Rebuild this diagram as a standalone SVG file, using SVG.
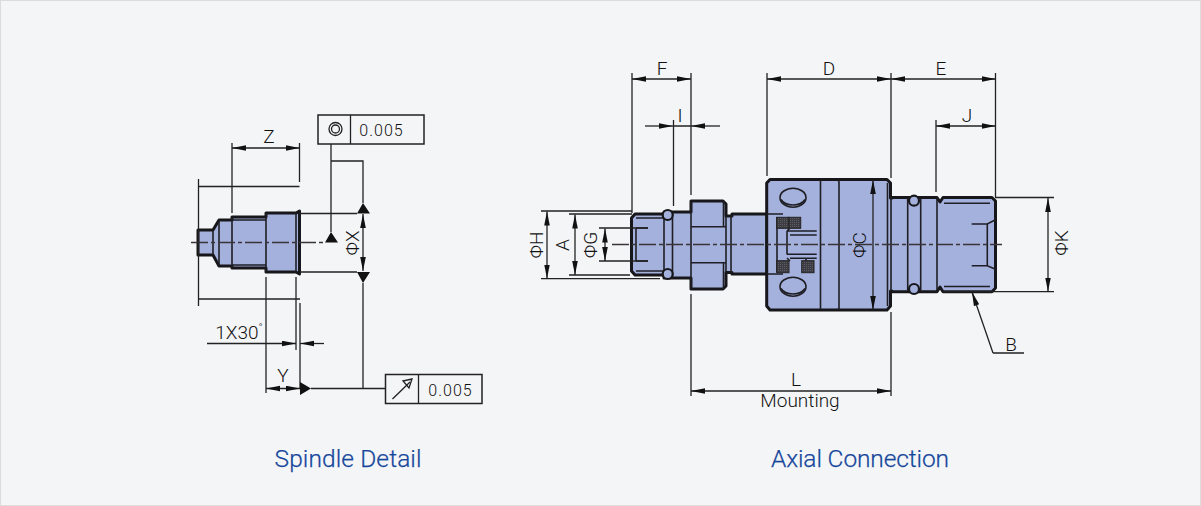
<svg xmlns="http://www.w3.org/2000/svg" width="1201" height="506" viewBox="0 0 1201 506">
<defs>
<style>
.b{fill:#a5b1dd;stroke:#17171b;stroke-width:3;stroke-linejoin:round}
.o{fill:#a5b1dd;stroke:#17171b;stroke-width:2.200}
.i{fill:none;stroke:#1e1e24;stroke-width:1.6}
.d{fill:none;stroke:#222;stroke-width:1.3}
.ar{fill:none;stroke:#222;stroke-width:1.3;marker-start:url(#a);marker-end:url(#a)}
.c{fill:none;stroke:#3a3438;stroke-width:1.500;stroke-dasharray:17 3 4 3}
.h{fill:#111}
.t{font-family:"Roboto","Liberation Sans",sans-serif;font-weight:300;font-size:19px;fill:#111;text-anchor:middle}
.n{font-family:"Roboto","Liberation Sans",sans-serif;font-weight:300;font-size:16px;fill:#111;text-anchor:middle;letter-spacing:1px}
.tt{font-family:"Roboto","Liberation Sans",sans-serif;font-size:24.500px;font-weight:300;fill:#16479c;stroke:#16479c;stroke-width:.25;text-anchor:middle}
.hx{fill:url(#hp);stroke:#222;stroke-width:1}
</style>
<marker id="a" markerUnits="userSpaceOnUse" markerWidth="15" markerHeight="7" refX="14" refY="3" orient="auto-start-reverse"><path d="M0 0.2L14 3L0 5.8z" fill="#111"/></marker>
<pattern id="hp" width="2" height="2" patternUnits="userSpaceOnUse"><rect width="2" height="2" fill="#3c3c42"/><rect width="1" height="1" fill="#5d5d66"/></pattern>
</defs>
<rect x=".5" y=".5" width="1200" height="505" fill="#f4f5f7" stroke="#dcdcdc"/>

<g id="spindle-part">
<path class="b" d="M198 230H213L219 220H232V217H266V213H296L299.500 211V274L296 272H266V268H232V266H219L213 255H198Z"/>
<path class="i" d="M213 230V255M219 220V266M232 217V268M266 213V272M296 213V272M232 220H266M232 265H266"/>
</g>
<g id="connectors-spindle">
<path class="c" d="M191 242.500H325"/>
<path class="d" d="M198.500 179V306M198.500 186.500H299.500M198.500 299H300M232 143V213M299.500 143V182M300 303V388M266 277V393M296 277V350M300 213.500H357M300 272H357M363 283V388.500M331 144V232M331 161H363V203M311 388.500H386"/>
<path class="ar" d="M232 148H299.500"/>
<path class="ar" d="M266 388.500H300"/>
<path class="ar" d="M363 214V271"/>
<path class="d" marker-end="url(#a)" d="M207 343.500H296"/>
<path class="d" marker-end="url(#a)" d="M324 343.500H300"/>
<path class="h" d="M331 232L325 242.500H338ZM363 203L357 213.500H370ZM357 272H370L363 283ZM300 382V395L311 388.500Z"/>
</g>
<g id="spindle-labels">
<text class="t" x="269" y="143">Z</text>
<text class="t" x="239" y="338.500">1X30<tspan font-size="11" dy="-8">°</tspan></text>
<text class="t" x="283" y="382">Y</text>
<text class="t" transform="translate(359 243) rotate(-90)">ΦX</text>
</g>
<g id="tolerance-concentricity">
<rect x="318" y="115" width="106" height="29" fill="none" stroke="#222" stroke-width="1.500"/>
<path class="d" d="M350.500 115V144"/>
<circle cx="335.500" cy="129" r="6.500" class="d"/><circle cx="335.500" cy="129" r="4" class="d"/>
<text class="n" x="381.500" y="136">0.005</text>
</g>
<g id="tolerance-runout">
<rect x="385.500" y="374.500" width="96.500" height="29" fill="none" stroke="#222" stroke-width="1.500"/>
<path class="d" d="M418.500 374.500V403.500M392.500 399L410 382"/>
<path class="d" d="M403 381L412 379L409 388Z"/>
<text class="n" x="450.500" y="395.500">0.005</text>
</g>

<g id="connection-part">
<path class="b" d="M635 214H664V212H691V201H723L726 204V216H732V214H767V274H732V272.500H726V286L723 289H691V278H664V275H635L631.500 271V218Z"/>
<path class="i" d="M636 218H663L664 214M636 271H663L664 275M664 214V275M672.500 212V278M691 201V289M691 226.700H726M691 262.700H726M723.500 201V226.700M723.500 262.700V289M726 216V272.500M731 216V272.500"/>
<path class="i" d="M636 228H648M636 261H648M636 228V261"/>
<circle cx="667.700" cy="215" r="5" class="o"/>
<circle cx="667.700" cy="274" r="5" class="o"/>
<path class="b" d="M770 179.500H887L890.500 183V198H892V197.500H937L940 202L943 197.500H992L995.500 201V288L992 291.700H943L940 287L937 291.700H892V291H890.500V306L887 310H770L766.700 306V183Z"/>
<path class="i" stroke-width="2" d="M820.500 180V310M838 180L839 182V308L838 310M887.500 183V306M891 197V291"/>
<path class="i" d="M907.700 198V291M920.700 198V291M937 198V291M944 203.300H990M944 286.500H990M971.700 224H987.300L995 220M971.700 265.700H987.300L995 269M987.300 224V265.700"/>
<circle cx="914" cy="200.700" r="5" class="o"/>
<circle cx="914" cy="289" r="5" class="o"/>
<ellipse cx="793" cy="197.700" rx="13" ry="9.500" class="i"/>
<path class="i" d="M781 199.500A13 9 0 0 0 805 199.500"/>
<ellipse cx="793" cy="286.700" rx="13" ry="9.500" class="i"/>
<path class="i" d="M781 288.500A13 9 0 0 0 805 288.500"/>
<path class="i" d="M767 214H783M767 274H783M777 217V272M787 231V254.500M787 231L790 228M787 258L790 261M787 231H816.700M790 235H816.700M787 254.300H816.700M790 258.300H816.700M806 258.300V261"/>
<rect x="776.700" y="217.300" width="12.300" height="11" class="hx"/>
<rect x="789" y="217.300" width="11.700" height="11" class="hx"/>
<rect x="776.700" y="260.700" width="12.300" height="12" class="hx"/>
<rect x="801.700" y="260.700" width="12.300" height="12" class="hx"/>
</g>
<g id="connectors-connection">
<path class="c" d="M612 244.500H1002"/>
<path class="d" d="M632 73V213M691 73V195M673.500 120V206M767 73V176M891 73V178M995.500 73V197M936 120V192M541 211H632M541 278.700H660M569 214H632M569 275H630M599 228H648M599 261H648M691 294V396M891 312V396M995 197.500H1054M943 291.700H1054M673 126H691M993 353H1024"/>
<path class="ar" d="M632 79H691"/>
<path class="ar" d="M767 79H891"/>
<path class="ar" d="M891 79H995.500"/>
<path class="ar" d="M936 126H995.500"/>
<path class="ar" d="M547 211.500V278.500"/>
<path class="ar" d="M575 214.500V275"/>
<path class="ar" d="M605 228.500V261"/>
<path class="ar" d="M873 180V310"/>
<path class="ar" d="M1048 198V291.500"/>
<path class="ar" d="M691 391H891"/>
<path class="d" marker-end="url(#a)" d="M645 126H673"/>
<path class="d" marker-end="url(#a)" d="M720 126H691"/>
<path class="d" marker-end="url(#a)" d="M993 353L972 292"/>
</g>
<g id="connection-labels">
<text class="t" x="662" y="75">F</text>
<text class="t" x="680" y="122">I</text>
<text class="t" x="829" y="75">D</text>
<text class="t" x="941" y="75">E</text>
<text class="t" x="967" y="122">J</text>
<text class="t" x="1011" y="351">B</text>
<text class="t" x="796" y="386">L</text>
<text class="t" x="800" y="407">Mounting</text>
<text class="t" transform="translate(543 245) rotate(-90)">ΦH</text>
<text class="t" transform="translate(569 245) rotate(-90)">A</text>
<text class="t" transform="translate(597 245) rotate(-90)">ΦG</text>
<text class="t" transform="translate(866 245) rotate(-90)">ΦC</text>
<text class="t" transform="translate(1068 243) rotate(-90)">ΦK</text>
</g>
<g id="titles">
<text class="tt" x="348" y="467" textLength="147">Spindle Detail</text>
<text class="tt" x="860" y="467" textLength="178">Axial Connection</text>
</g>
</svg>
